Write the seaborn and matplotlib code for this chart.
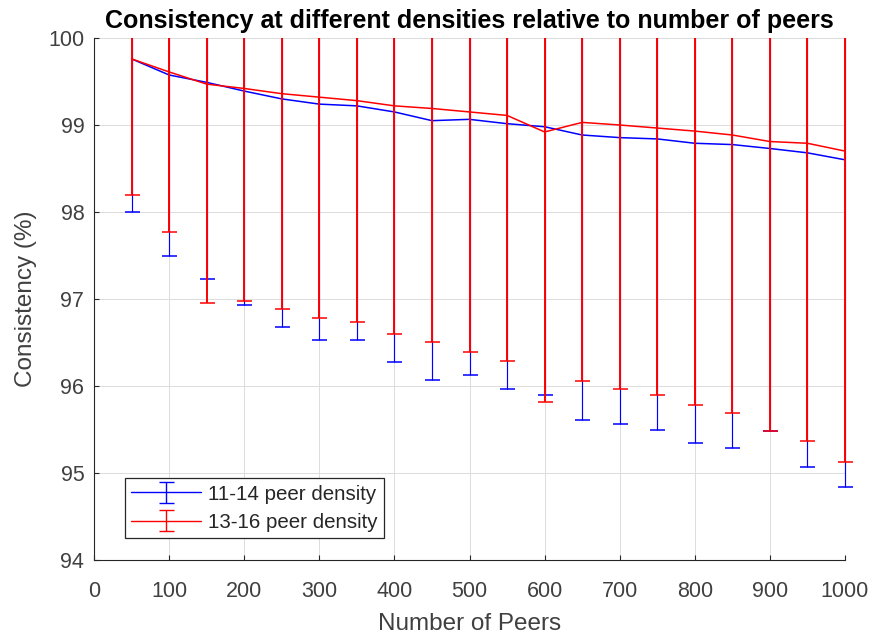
import numpy as np
import pandas as pd
import matplotlib
matplotlib.use("Agg")
import matplotlib.pyplot as plt
from matplotlib.patches import Rectangle
import seaborn as sns

peers = [50, 100, 150, 200, 250, 300, 350, 400, 450, 500,
         550, 600, 650, 700, 750, 800, 850, 900, 950, 1000]

mean_11_14 = [99.76, 99.575, 99.49, 99.39, 99.30, 99.24, 99.22, 99.15, 99.05, 99.065,
              99.015, 98.98, 98.885, 98.855, 98.84, 98.79, 98.775, 98.73, 98.68, 98.60]
lower_11_14 = [98.00, 97.49, 97.23, 96.93, 96.68, 96.53, 96.53, 96.28, 96.07, 96.13,
               95.97, 95.90, 95.61, 95.56, 95.50, 95.35, 95.29, 95.48, 95.07, 94.84]

mean_13_16 = [99.76, 99.61, 99.47, 99.42, 99.36, 99.32, 99.28, 99.22, 99.19, 99.15,
              99.11, 98.92, 99.03, 99.00, 98.965, 98.93, 98.885, 98.81, 98.79, 98.70]
lower_13_16 = [98.19, 97.77, 96.95, 96.98, 96.88, 96.785, 96.74, 96.60, 96.51, 96.39,
               96.29, 95.82, 96.06, 95.96, 95.90, 95.78, 95.69, 95.48, 95.37, 95.13]

labels = ["11-14 peer density", "13-16 peer density"]
colors = ["#0000ff", "#ff0000"]

sns.set_theme(style="whitegrid")
plt.rcParams["font.family"] = ["Liberation Sans", "DejaVu Sans"]

fig = plt.figure(figsize=(8.74, 6.35), dpi=100)
ax = fig.add_axes([94 / 874, 1 - 560 / 635, 751 / 874, 522 / 635])
ax.set_facecolor("white")

clip_rect = Rectangle((-0.03, 0.0), 1.06, 1.0, transform=ax.transAxes,
                      facecolor="none", edgecolor="none")
ax.add_patch(clip_rect)
clip_rect.set_visible(False)

series = [(mean_11_14, lower_11_14), (mean_13_16, lower_13_16)]
widths = [0.85, 1.4]
handles = []
for i, ((m, lo), lab, col) in enumerate(zip(series, labels, colors)):
    m = np.array(m)
    err = m - np.array(lo)
    eb = ax.errorbar(peers, m, yerr=err, fmt="none", ecolor=col, elinewidth=widths[i],
                     capsize=5.4, capthick=1.1, alpha=1.0, zorder=3 + 2 * i)
    for art in eb.lines[1]:
        art.set_clip_path(clip_rect)
    for art in eb.lines[2]:
        art.set_clip_path(clip_rect)
    df = pd.DataFrame({"peers": peers, "consistency": m})
    sns.lineplot(data=df, x="peers", y="consistency", color=col, linewidth=1.1,
                 ax=ax, legend=False, zorder=4 + 2 * i)
    h = ax.errorbar([np.nan], [np.nan], yerr=[1], fmt="-", color=col, linewidth=1.0,
                    elinewidth=1.0, capsize=5.4, capthick=1.0, label=lab)
    handles.append(h)

ax.set_xlim(0, 1000)
ax.set_ylim(94, 100)
ax.set_xticks(range(0, 1001, 100))
ax.set_yticks(range(94, 101, 1))

ax.grid(True, color="#dcdcdc", linewidth=0.7)
for s in ["top", "right"]:
    ax.spines[s].set_visible(False)
for s in ["left", "bottom"]:
    ax.spines[s].set_visible(True)
    ax.spines[s].set_color("#262626")
    ax.spines[s].set_linewidth(0.8)

ax.tick_params(axis="both", direction="in", length=3.6, width=0.8, color="#262626",
               labelcolor="#404040", labelsize=15.5, left=True, bottom=True)
ax.tick_params(axis="x", pad=15)
ax.tick_params(axis="y", pad=7)

ax.set_xlabel("Number of Peers", fontsize=17.5, color="#404040", labelpad=8)
ax.set_ylabel("Consistency (%)", fontsize=17.5, color="#404040", labelpad=8)
ax.set_title("Consistency at different densities relative to number of peers",
             fontsize=18, fontweight="bold", color="black", pad=7)

leg = ax.legend(handles=handles, labels=labels, loc="lower left",
                bbox_to_anchor=(0.041, 0.042), borderaxespad=0, fontsize=14.8,
                fancybox=False, framealpha=1, edgecolor="#262626",
                handlelength=3.4, handletextpad=0.35, labelspacing=0.45,
                borderpad=0.3)
leg.set_zorder(10)
leg.get_frame().set_linewidth(0.9)
for t in leg.get_texts():
    t.set_color("#262626")

fig.savefig("out.png", dpi=100)
